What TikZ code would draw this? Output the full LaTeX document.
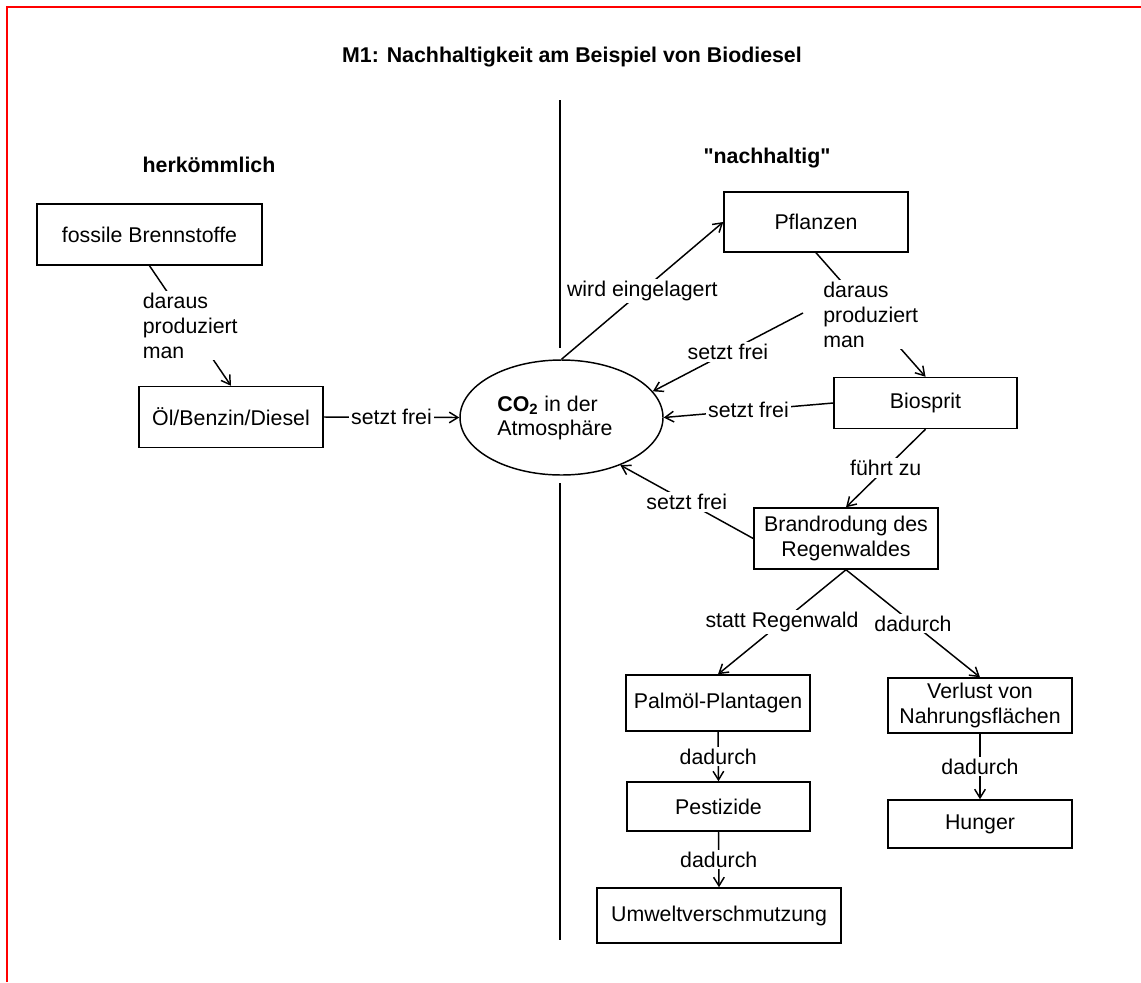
\documentclass[tikz,border=0pt]{standalone}
\usepackage{fontspec}
\setmainfont{Liberation Sans}[Ligatures=TeXOff]
\usetikzlibrary{arrows.meta,shapes.geometric}
\begin{document}
\begin{tikzpicture}[x=0.75pt,y=-0.75pt,
  font=\fontsize{16}{18.5}\selectfont,
  bold/.style={font=\fontsize{16}{18.5}\selectfont\bfseries},
  bx/.style={draw,line width=1.1pt,inner sep=0pt,align=center},
  lbl/.style={fill=white,inner sep=1.5pt,align=left},
  con/.style={line width=1.1pt},
  arr/.style={con,-{Straight Barb[length=6.5pt,width=8pt]}}]
\useasboundingbox (0,0) rectangle (1141,982);
\fill[white] (0,0) rectangle (1141,982);
\draw[red,line width=1.5pt] (6.5,982) -- (6.5,6.5) -- (1141,6.5);
% headings
\node[bold] (title) at (572,57) {M1: Nachhaltigkeit am Beispiel von Biodiesel};
\node[bold] (herk) at (209,165) {herkömmlich};
\node[bold] (nach) at (767,158) {"nachhaltig"};
% divider
\draw[con] (560,100) -- (560,348);
\draw[con] (560,483) -- (560,940);
% boxes
\node[bx,minimum width=168.75pt,minimum height=45.75pt] (foss) at (149.5,234.5) {fossile Brennstoffe};
\node[bx,minimum width=138pt,minimum height=45.75pt] (oel) at (231,417) {Öl/Benzin/Diesel};
\node[draw,ellipse,line width=1.1pt,minimum width=152.25pt,minimum height=86.25pt,inner sep=0pt] (co2) at (561.5,417.5) {};
\node[align=left] (co2t) at (555,418) {\textbf{CO\textsubscript{2}} in der\\Atmosphäre};
\node[bx,minimum width=138pt,minimum height=45pt] (pfl) at (816,222) {Pflanzen};
\node[bx,minimum width=137.25pt,minimum height=38.25pt] (bio) at (925.5,403) {Biosprit};
\node[bx,minimum width=138pt,minimum height=45.75pt] (brand) at (846,538.5) {Brandrodung des\\Regenwaldes};
\node[bx,minimum width=138pt,minimum height=42pt] (palm) at (718,703) {Palmöl-Plantagen};
\node[bx,minimum width=137.25pt,minimum height=36.75pt] (pest) at (718.5,806.5) {Pestizide};
\node[bx,minimum width=183pt,minimum height=41.25pt] (umw) at (719,915.5) {Umweltverschmutzung};
\node[bx,minimum width=138pt,minimum height=41.25pt] (verl) at (980,705.5) {Verlust von\\Nahrungsflächen};
\node[bx,minimum width=138pt,minimum height=36pt] (hung) at (980,824) {Hunger};
% connectors
\draw[arr] (foss.south) -- node[lbl]{daraus\\produziert\\man} (oel.north);
\draw[arr] (oel.east) -- node[lbl]{setzt frei} (co2.west);
\draw[arr] (co2.north) -- node[lbl]{wird eingelagert} (pfl.west);
\draw[arr] (pfl.south) -- node[lbl]{daraus\\produziert\\man} (bio.north);
\coordinate (src) at (803,313);
\draw[arr] (src) -- node[lbl]{setzt frei} (co2.16);
\draw[arr] (bio.west) -- node[lbl]{setzt frei} (co2.east);
\draw[arr] (bio.south) -- node[lbl]{führt zu} (brand.north);
\draw[arr] (brand.west) -- node[lbl]{setzt frei} (co2.-39);
\draw[arr] (brand.south) -- node[lbl]{statt Regenwald} (palm.north);
\draw[arr] (brand.south) -- node[lbl]{dadurch} (verl.north);
\draw[arr] (palm.south) -- node[lbl]{dadurch} (pest.north);
\draw[arr] (pest.south) -- node[lbl]{dadurch} (umw.north);
\draw[arr] (verl.south) -- node[lbl]{dadurch} (hung.north);
\end{tikzpicture}
\end{document}
